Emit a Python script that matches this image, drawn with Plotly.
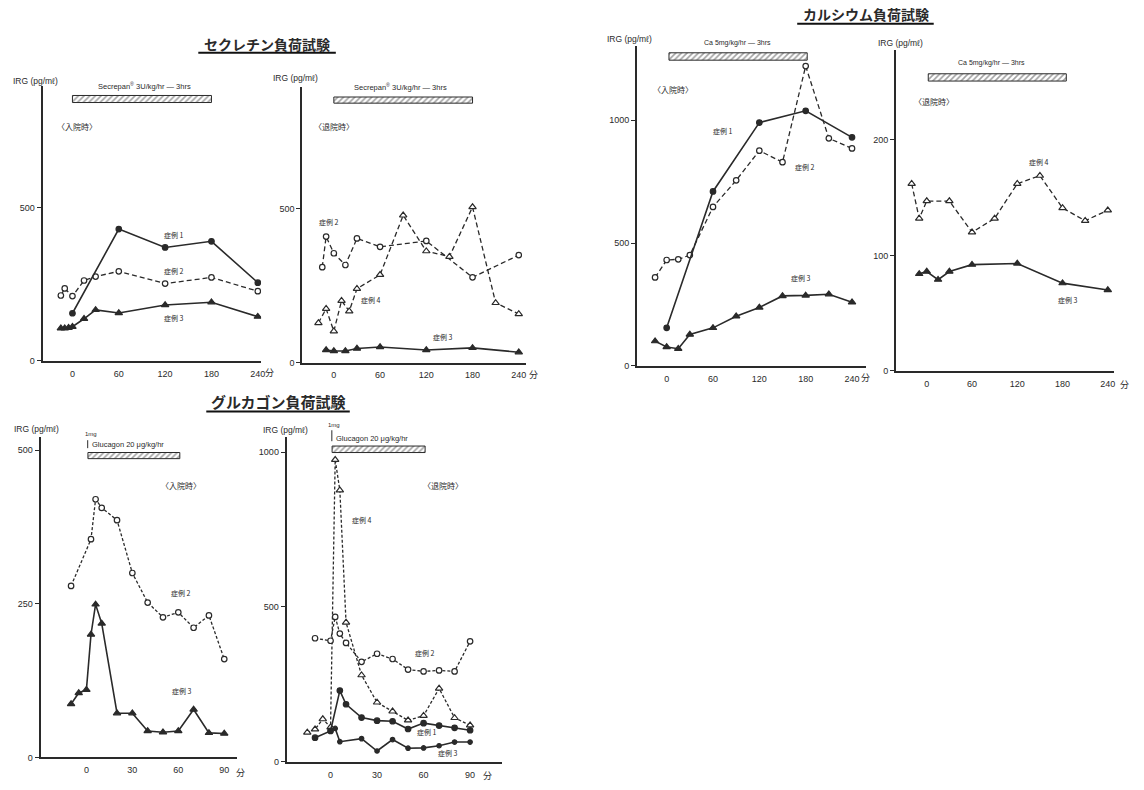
import plotly.graph_objects as go

W, H = 1144, 790
INK = "#2a2a2a"
LAT = "Liberation Sans, Arial, sans-serif"
JP = "Noto Sans CJK JP, sans-serif"

# ---------------- data ----------------
# Secretin test, admission (入院時)
secA_c1_x = [0, 60, 120, 180, 240]
secA_c1_y = [155, 430, 370, 390, 255]
secA_c2_x = [-15, -10, 0, 15, 30, 60, 120, 180, 240]
secA_c2_y = [213, 236, 211, 262, 275, 292, 252, 272, 227]
secA_c3_x = [-15, -10, -5, 0, 15, 30, 60, 120, 180, 240]
secA_c3_y = [106, 106, 108, 111, 137, 166, 156, 182, 191, 144]

# Secretin test, discharge (退院時)
secB_c2_x = [-15, -10, 0, 15, 30, 60, 120, 180, 240]
secB_c2_y = [310, 409, 355, 317, 403, 376, 395, 277, 349]
secB_c4_x = [-20, -10, 0, 10, 20, 30, 60, 90, 120, 150, 180, 210, 240]
secB_c4_y = [129, 175, 102, 201, 167, 240, 285, 478, 362, 344, 505, 194, 158]
secB_c3_x = [-10, 0, 15, 30, 60, 120, 180, 240]
secB_c3_y = [41, 38, 38, 46, 51, 41, 48, 34]

# Calcium test, admission
caA_c1_x = [0, 60, 120, 180, 240]
caA_c1_y = [155, 710, 990, 1038, 930]
caA_c2_x = [-15, 0, 15, 30, 60, 90, 120, 150, 180, 210, 240]
caA_c2_y = [360, 431, 434, 451, 647, 755, 876, 829, 1220, 926, 885]
caA_c3_x = [-15, 0, 15, 30, 60, 90, 120, 150, 180, 210, 240]
caA_c3_y = [101, 77, 70, 128, 155, 202, 238, 285, 287, 292, 259]

# Calcium test, discharge
caB_c4_x = [-20, -10, 0, 30, 60, 90, 120, 150, 180, 210, 240]
caB_c4_y = [162, 132, 147, 147, 120, 132, 162, 169, 141, 130, 139]
caB_c3_x = [-10, 0, 15, 30, 60, 120, 180, 240]
caB_c3_y = [84, 86, 79, 86, 92, 93, 76, 70]

# Glucagon test, admission
glA_c2_x = [-10, 3, 6, 10, 20, 30, 40, 50, 60, 70, 80, 90]
glA_c2_y = [279, 355, 420, 406, 386, 300, 252, 228, 236, 211, 231, 160]
glA_c3_x = [-10, -5, 0, 3, 6, 10, 20, 30, 40, 50, 60, 70, 80, 90]
glA_c3_y = [87, 105, 110, 200, 249, 218, 72, 72, 43, 41, 43, 78, 40, 39]

# Glucagon test, discharge
glB_c4_x = [-15, -10, -5, 0, 3, 6, 10, 20, 30, 40, 50, 60, 70, 80, 90]
glB_c4_y = [95, 105, 138, 112, 975, 877, 450, 280, 192, 163, 134, 149, 237, 142, 118]
glB_c2_x = [-10, 0, 3, 6, 10, 20, 30, 40, 50, 60, 70, 80, 90]
glB_c2_y = [399, 391, 468, 414, 384, 323, 349, 332, 298, 292, 295, 292, 389]
glB_c1_x = [-10, 0, 6, 10, 20, 30, 40, 50, 60, 70, 80, 90]
glB_c1_y = [78, 100, 230, 186, 143, 133, 131, 106, 125, 117, 110, 102]
glB_c3_x = [0, 3, 6, 20, 30, 40, 50, 60, 70, 80, 90]
glB_c3_y = [100, 108, 65, 75, 35, 72, 44, 45, 52, 64, 64]

# infusion periods [start, end] (min)
secretin_infusion = [0, 180]
calcium_infusion_A = [3, 182]
calcium_infusion_B = [2, 185]
glucagon_infusion = [1, 61]

xt_long = [0, 60, 120, 180, 240]
xt_short = [0, 30, 60, 90]

# --------------- geometry of the six panels (pixels) ---------------
panels = {
    1: dict(l=42.7, r=262, x0=72.7, y0=363.0, t=87.0, ytop=896, yt=[0, 500]),
    2: dict(l=303.3, r=528, x0=335.0, y0=365.0, t=88.0, ytop=893, yt=[0, 500]),
    3: dict(l=639.3, r=869.3, x0=669.0, y0=368.3, t=46.7, ytop=1300, yt=[0, 500, 1000]),
    4: dict(l=899.3, r=1118, x0=930.0, y0=373.3, t=50.0, ytop=278, yt=[0, 100, 200]),
    5: dict(l=40.7, r=238.3, x0=86.7, y0=762.3, t=439.3, ytop=522, yt=[0, 250, 500]),
    6: dict(l=287.7, r=503.3, x0=331.7, y0=766.7, t=440.0, ytop=1048, yt=[0, 500, 1000]),
}
ppm = {1: 0.775, 2: 0.7733, 3: 0.775, 4: 0.757, 5: 1.537, 6: 1.556}

fig = go.Figure()
layout = dict(width=W, height=H, margin=dict(l=0, r=0, t=0, b=0),
              paper_bgcolor="white", plot_bgcolor="white", showlegend=False)

for k, p in panels.items():
    xl = (p["l"] - p["x0"]) / ppm[k]
    xr = (p["r"] - p["x0"]) / ppm[k]
    sfx = "" if k == 1 else str(k)
    xt = xt_long if k <= 4 else xt_short
    layout["xaxis" + sfx] = dict(
        domain=[p["l"] / W, p["r"] / W], range=[xl, xr], anchor="y" + sfx,
        showline=True, linecolor=INK, linewidth=2, showgrid=False, zeroline=False,
        tickvals=xt, ticks="outside", ticklen=3, tickcolor="rgba(0,0,0,0)",
        tickfont=dict(family=LAT, size=9, color=INK), fixedrange=True)
    layout["yaxis" + sfx] = dict(
        domain=[1 - p["y0"] / H, 1 - p["t"] / H], range=[0, p["ytop"]], anchor="x" + sfx,
        showline=True, linecolor=INK, linewidth=2, showgrid=False, zeroline=False,
        tickvals=p["yt"], ticks="outside", ticklen=4, tickwidth=1.2, tickcolor=INK,
        tickfont=dict(family=LAT, size=9, color=INK), fixedrange=True)


def series(k, xs, ys, kind, dash_len="5px,3px"):
    sfx = "" if k == 1 else str(k)
    filled = kind in ("c1", "c3")
    sym = "circle" if kind in ("c1", "c2") else "triangle-up"
    size = 5.5 if sym == "circle" else 6.5
    if kind == "c3" and k == 6:
        sym, size = "circle", 4.5
    fig.add_trace(go.Scatter(
        x=xs, y=ys, mode="lines+markers", xaxis="x" + sfx, yaxis="y" + sfx,
        line=dict(color=INK, width=1.6 if filled else 1.3,
                  dash="solid" if filled else dash_len),
        marker=dict(symbol=sym, size=size, color=INK if filled else "white",
                    line=dict(color=INK, width=1.2)),
        hoverinfo="skip"))


def infusion(k, span, yc, thick):
    sfx = "" if k == 1 else str(k)
    fig.add_trace(go.Bar(
        orientation="h", x=[span[1] - span[0]], base=[span[0]], y=[yc], width=[thick],
        xaxis="x" + sfx, yaxis="y" + sfx,
        marker=dict(color="white", line=dict(color=INK, width=1),
                    pattern=dict(shape="/", fgcolor="#444", bgcolor="white", size=4, solidity=0.4)),
        hoverinfo="skip"))


series(1, secA_c2_x, secA_c2_y, "c2")
series(1, secA_c1_x, secA_c1_y, "c1")
series(1, secA_c3_x, secA_c3_y, "c3")
infusion(1, secretin_infusion, 855, 23)

series(2, secB_c2_x, secB_c2_y, "c2")
series(2, secB_c4_x, secB_c4_y, "c4")
series(2, secB_c3_x, secB_c3_y, "c3")
infusion(2, secretin_infusion, 852, 20)

series(3, caA_c2_x, caA_c2_y, "c2")
series(3, caA_c1_x, caA_c1_y, "c1")
series(3, caA_c3_x, caA_c3_y, "c3")
infusion(3, calcium_infusion_A, 1259, 30)

series(4, caB_c4_x, caB_c4_y, "c4")
series(4, caB_c3_x, caB_c3_y, "c3")
infusion(4, calcium_infusion_B, 254, 6.3)

series(5, glA_c2_x, glA_c2_y, "c2", "3px,2px")
series(5, glA_c3_x, glA_c3_y, "c3")
infusion(5, glucagon_infusion, 491, 10)

series(6, glB_c4_x, glB_c4_y, "c4", "3px,2px")
series(6, glB_c2_x, glB_c2_y, "c2", "3px,2px")
series(6, glB_c1_x, glB_c1_y, "c1")
series(6, glB_c3_x, glB_c3_y, "c3")
infusion(6, glucagon_infusion, 1009, 21)

ann = []
shapes = []


def txt(px, py, s, size=8, family=JP, anchor="center"):
    ann.append(dict(x=px / W, y=1 - py / H, xref="paper", yref="paper", text=s,
                    showarrow=False, xanchor=anchor, yanchor="middle",
                    font=dict(size=size, family=family, color=INK)))


def uline(x0, x1, y):
    shapes.append(dict(type="line", xref="paper", yref="paper", x0=x0 / W, x1=x1 / W,
                       y0=1 - y / H, y1=1 - y / H, line=dict(color="#111", width=2)))


# titles
txt(268, 44, "<b>セクレチン負荷試験</b>", 14)
uline(199, 337, 53)
txt(869, 14, "<b>カルシウム負荷試験</b>", 14)
uline(800, 937, 24)
txt(279, 404, "<b>グルカゴン負荷試験</b>", 15)
uline(207, 351, 414)

# y-axis titles
irg = "IRG (pg/mℓ)"
for (px, py) in [(36, 82), (297, 79), (632, 39), (904, 43), (37, 432), (287, 433)]:
    txt(px, py, irg, 8.5, LAT)

# minute units
for (px, py) in [(270, 375), (535, 377), (869, 380), (1128, 387), (241, 777), (489, 780)]:
    txt(px, py, "分", 9)

# infusion labels
txt(145, 87, "Secrepan<sup>®</sup> 3U/kg/hr — 3hrs", 7.5, LAT)
txt(402, 88, "Secrepan<sup>®</sup> 3U/kg/hr — 3hrs", 7.5, LAT)
txt(740, 43, "Ca 5mg/kg/hr — 3hrs", 7, LAT)
txt(995, 63, "Ca 5mg/kg/hr — 3hrs", 7, LAT)
txt(90, 447, "Glucagon 20 μg/kg/hr", 7.5, LAT, "left")
txt(335, 441, "Glucagon 20 μg/kg/hr", 7.5, LAT, "left")
txt(91, 437, "1mg", 6, LAT)
txt(335, 428, "1mg", 6, LAT)
for (px, ya, yb) in [(88, 443, 451), (333, 433, 444)]:
    shapes.append(dict(type="line", xref="paper", yref="paper", x0=px / W, x1=px / W,
                       y0=1 - ya / H, y1=1 - yb / H, line=dict(color=INK, width=1)))

# period labels
txt(77, 127, "〈入院時〉", 8)
txt(335, 127, "〈退院時〉", 8)
txt(675, 90, "〈入院時〉", 8)
txt(937, 102, "〈退院時〉", 8)
txt(182, 489, "〈入院時〉", 8)
txt(445, 489, "〈退院時〉", 8)

# case labels
for (px, py, s) in [(175, 236, "症例 1"), (175, 273, "症例 2"), (175, 320, "症例 3"),
                    (330, 223, "症例 2"), (372, 302, "症例 4"), (445, 339, "症例 3"),
                    (726, 132, "症例 1"), (808, 168, "症例 2"), (804, 280, "症例 3"),
                    (1043, 163, "症例 4"), (1072, 302, "症例 3"),
                    (182, 597, "症例 2"), (183, 695, "症例 3"),
                    (363, 523, "症例 4"), (426, 657, "症例 2"), (428, 737, "症例 1"),
                    (450, 758, "症例 3")]:
    txt(px, py, s, 7)

layout["annotations"] = ann
layout["shapes"] = shapes
fig.update_layout(**layout)
fig.write_html("out.html")
